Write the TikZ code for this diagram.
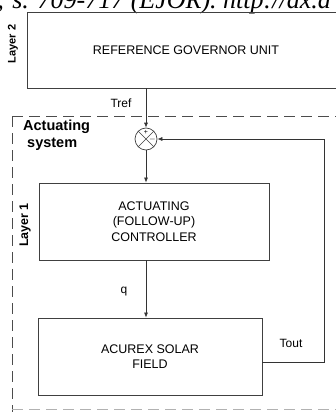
\documentclass[tikz,border=0pt]{standalone}
\usepackage{fontspec}
\setmainfont{Liberation Sans}
\newfontfamily\citefont{Liberation Serif}
\usetikzlibrary{arrows.meta}

\begin{document}
\begin{tikzpicture}[x=1pt,y=-1pt,
  blk/.style={draw=black!75,line width=0.8pt,align=center,inner sep=0pt},
  lyr/.style={rotate=90,font=\bfseries},
  lnk/.style={draw=black!80,line width=0.7pt},
  arr/.style={lnk,-{Latex[length=5pt,width=4pt]}},
  frame/.style={black!70,line width=0.7pt,dash pattern=on 11pt off 6pt}]
  \clip (0,0) rectangle (336,412);
  % cut-off citation line
  \node[anchor=base west,inner sep=0pt,font=\citefont\itshape\fontsize{26}{28}\selectfont] (cite) at (-3,9)
    {; s. 709-717 (EJOR). http://dx.d};
  % layer 2
  \node[blk,minimum width=318pt,minimum height=76pt,font=\fontsize{12.5}{14}\selectfont] (gov) at (186,50)
    {REFERENCE GOVERNOR UNIT};
  \node[lyr,font=\bfseries\fontsize{11}{12}\selectfont] (l2) at (13,44) {Layer 2};
  % actuating system frame
  \draw[frame] (12,116) -- (340,116);
  \draw[frame] (12,116) -- (12,412);
  \draw[frame,black!30] (12,409) -- (340,409);
  \node[anchor=north west,align=left,inner sep=0pt,font=\bfseries\fontsize{14.5}{17}\selectfont] (act) at (23,120)
    {Actuating\\ \ system};
  % layer 1
  \node[blk,minimum width=230pt,minimum height=77pt,font=\fontsize{12.5}{15.5}\selectfont] (ctrl) at (154,221.5)
    {ACTUATING\\(FOLLOW-UP)\\CONTROLLER};
  \node[lyr,font=\bfseries\fontsize{12.5}{14}\selectfont] (l1) at (25,225) {Layer 1};
  \node[blk,minimum width=224pt,minimum height=77pt,font=\fontsize{12.5}{15}\selectfont] (plant) at (150,356.5)
    {ACUREX SOLAR\\FIELD};
  % summing junction
  \node[draw=black!75,line width=0.7pt,circle,minimum size=22pt,inner sep=0pt] (sum) at (146,139) {};
  \draw[black!75,line width=0.6pt] (sum.north west) -- (sum.south east) (sum.north east) -- (sum.south west);
  \node[font=\fontsize{7}{7}\selectfont,inner sep=0pt] (plus) at (146,132.5) {+};
  \node[font=\fontsize{8}{8}\selectfont,inner sep=0pt] (minus) at (152.5,139.5) {$-$};
  % signals
  \coordinate (fb) at (324,362);
  \draw[arr] (sum.north |- gov.south) -- (sum.north);
  \draw[arr] (sum.south) -- (sum.south |- ctrl.north);
  \draw[arr] (sum.south |- ctrl.south) -- (sum.south |- plant.north);
  \draw[arr] (plant.east |- fb) -- (fb) |- (sum.east);
  \node[font=\fontsize{12}{14}\selectfont] (tref) at (121,103) {Tref};
  \node[font=\fontsize{12}{14}\selectfont] (q) at (124,292) {q};
  \node[font=\fontsize{12}{14}\selectfont] (tout) at (291,343) {Tout};
\end{tikzpicture}
\end{document}
